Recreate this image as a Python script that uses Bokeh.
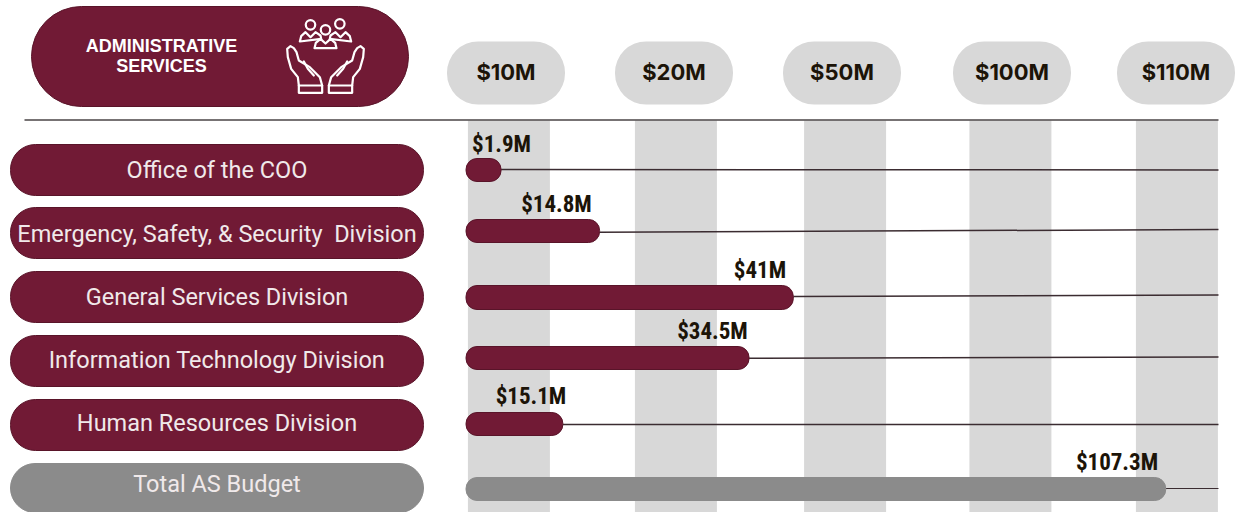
from bokeh.embed import file_html
from bokeh.resources import INLINE
from bokeh.plotting import figure
from bokeh.models import Range1d
from bokeh.core.properties import value

# ---- data
divisions = ["Office of the COO", "Emergency, Safety, & Security\u00a0 Division", "General Services Division",
             "Information Technology Division", "Human Resources Division", "Total AS Budget"]
budget_labels = ["$1.9M", "$14.8M", "$41M", "$34.5M", "$15.1M", "$107.3M"]
# bar lengths as drawn, measured in column spacings of the tick ladder
drawn_length = [0.21, 0.80, 1.96, 1.695, 0.58, 4.19]
tick_labels = ["$10M", "$20M", "$50M", "$100M", "$110M"]

# ---- layout (page pixels)
W, H = 1236, 512
MAROON, GREY, BAND = "#711a35", "#8b8b8b", "#d8d8d8"
BAR_X0, STEP = 465.5, 167
row_top = [144, 207, 271, 335, 399, 463]
row_bottom = [195, 258, 322, 386, 450, 512]
label_y = [169, 233, 296, 359, 422.5, 483]
bar_top = [158, 219, 285, 346, 412, 477]
bar_bottom = [181, 242, 309, 369, 435, 500]
line_y0 = [169, 231.7, 296, 357.7, 424, 488]
line_y1 = [169.5, 229, 294.5, 356.5, 424, 488]
value_x = [501, 556, 759.5, 712, 530.5, 1116.5]
value_y = [144, 204, 270, 331, 396, 462]
tick_cx = [505.5, 673.5, 841.5, 1011.5, 1175.5]
band_c = [0.257, 1.257, 2.27, 3.26, 4.257]
BAND_W = 82 / STEP

p = figure(width=W, height=H, x_range=Range1d(0, W), y_range=Range1d(H, 0),
           output_backend="svg", toolbar_location=None, min_border=0,
           outline_line_color=None, background_fill_color="white")
p.axis.visible = False
p.grid.visible = False
p.extra_x_ranges["steps"] = Range1d(-BAR_X0 / STEP, (W - BAR_X0) / STEP)

colors = [MAROON] * 5 + [GREY]
edges = ["#591429"] * 5 + [GREY]

# column bands
p.quad(left=[c - BAND_W / 2 for c in band_c], right=[c + BAND_W / 2 for c in band_c],
       top=[120] * 5, bottom=[H] * 5, x_range_name="steps", fill_color=BAND, line_color=None)

# header pill and rule
p.quad(left=[31], right=[408], top=[6], bottom=[106], fill_color=MAROON, line_color="#591429",
       line_width=1, border_radius=50)
p.segment(x0=[24], x1=[1218], y0=[119.5], y1=[119.5], line_color="#4a4446", line_width=1.6)

# tick pills
p.quad(left=[c - 59 for c in tick_cx], right=[c + 59 for c in tick_cx], top=[41] * 5, bottom=[104] * 5,
       fill_color=BAND, line_color=None, border_radius=31)
p.text(x=tick_cx, y=[71] * 5, text=tick_labels, text_align="center", text_baseline="middle",
       text_font=value("Inter"), text_font_style="bold", text_font_size="22px", text_color="#1c1408")

# connector lines
p.segment(x0=drawn_length, x1=[(1218 - BAR_X0) / STEP] * 6, y0=line_y0, y1=line_y1, x_range_name="steps",
          line_color="#3b2c31", line_width=[1.5] * 5 + [1])

# category pills
p.quad(left=[10] * 6, right=[423] * 6, top=row_top, bottom=row_bottom, fill_color=colors, line_color=edges,
       line_width=1, border_radius=25)
p.text(x=[216.5] * 6, y=label_y, text=divisions, text_align="center", text_baseline="middle",
       text_font=value("Roboto"), text_font_size="23.5px", text_color="#f0e9ea")

# bars
p.quad(left=[0] * 6, right=drawn_length, top=bar_top, bottom=bar_bottom, x_range_name="steps",
       fill_color=colors, line_color=edges, line_width=1, border_radius=11)
p.text(x=value_x, y=value_y, text=budget_labels, text_align="center", text_baseline="middle",
       text_font=value("Roboto Condensed, DejaVu Sans Condensed, Roboto"), text_font_style="bold",
       text_font_size="23px", text_color="#1c1408")

# header text
p.text(x=[161, 161], y=[45, 65], text=["ADMINISTRATIVE", "SERVICES"], text_align="center",
       text_baseline="middle", text_font=value("Liberation Sans"), text_font_style="bold",
       text_font_size="18px", text_color="white")


# header icon, drawn in its own small sketch coordinates
def ix(v):
    return [270 + a / 3 for a in v]


def iy(v):
    return [5 + a / 3 for a in v]


hand_x = [85, 82, 62, 52, 50, 60, 70, 78, 85, 118, 148, 155]
hand_y = [240, 215, 190, 155, 130, 122, 128, 140, 165, 185, 215, 240]
thumb_x = [100, 112, 130]
thumb_y = [168, 190, 210]
cuff_x = [85, 155, 155, 85, 85]
cuff_y = [240, 240, 262, 262, 240]
body_l_x = [88, 92, 105, 120, 135, 150, 152, 88]
body_l_y = [108, 92, 80, 95, 80, 90, 100, 108]
body_m_x = [132, 136, 150, 165, 180, 194, 198, 132]
body_m_y = [128, 112, 100, 114, 100, 112, 128, 128]
outlines = [(hand_x, hand_y), (thumb_x, thumb_y), (cuff_x, cuff_y),
            ([330 - a for a in hand_x], hand_y), ([330 - a for a in thumb_x], thumb_y),
            ([330 - a for a in cuff_x], cuff_y),
            (body_l_x, body_l_y), ([330 - a for a in body_l_x], body_l_y), (body_m_x, body_m_y)]
p.multi_line(xs=[ix(a) for a, _ in outlines], ys=[iy(b) for _, b in outlines], line_color="white",
             line_width=2.2, line_join="round", line_cap="round")
p.scatter(x=ix([120, 208, 165]), y=iy([58, 55, 73]), size=9.5, marker="circle", fill_color=None,
          line_color="white", line_width=2.2)

open("out.html", "w").write(file_html(p, INLINE))
